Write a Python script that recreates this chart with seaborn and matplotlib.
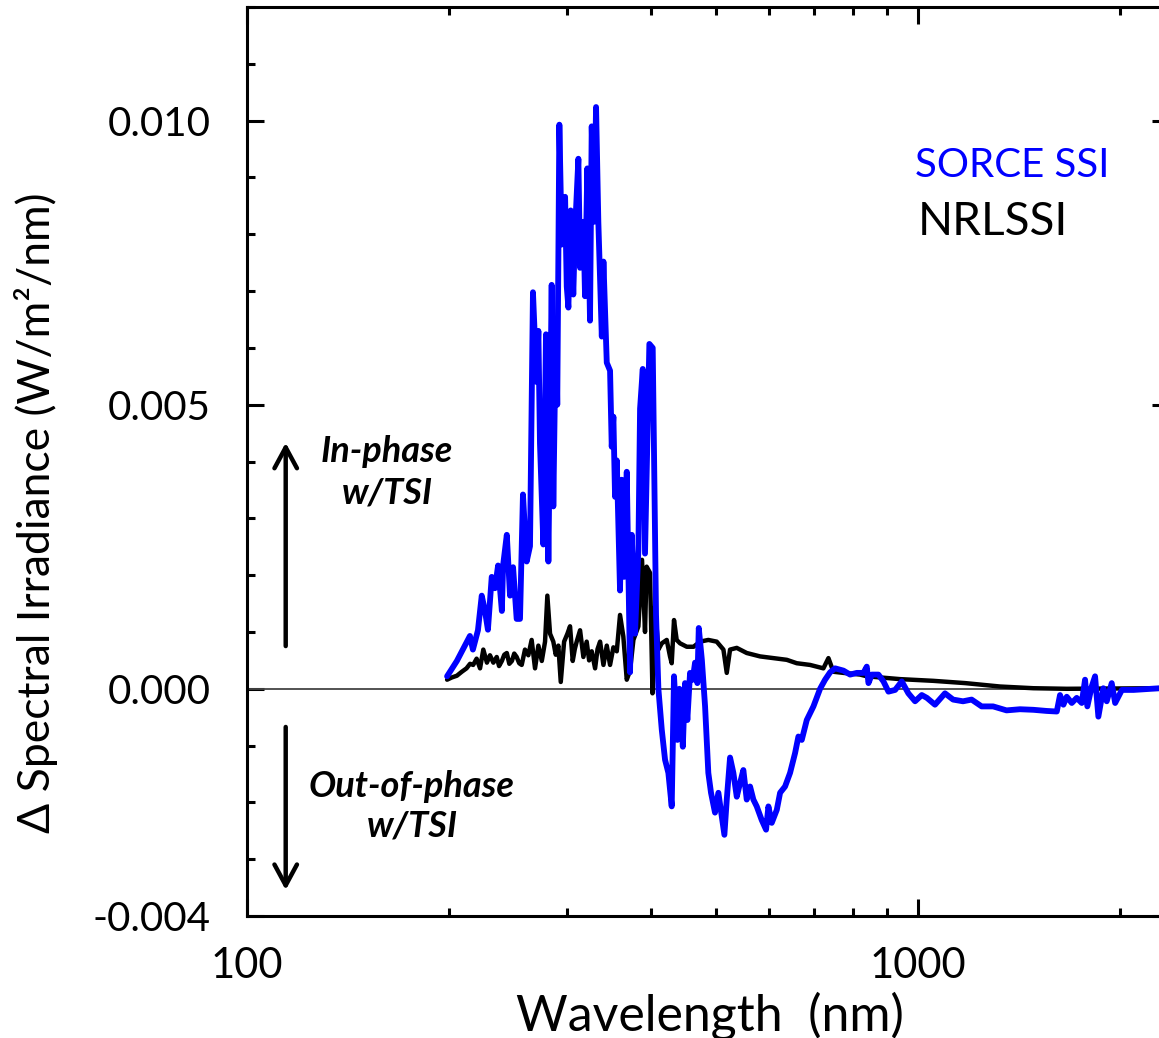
import numpy as np
import pandas as pd
import matplotlib
matplotlib.use('Agg')
import matplotlib.pyplot as plt
import matplotlib.ticker as mticker
import seaborn as sns

# SORCE SSI solar-cycle difference (W/m^2/nm)
sorce_wl = [198.7, 205.5, 211.2, 214.9, 217.1, 220.9, 223.8, 226.3, 228.6, 231.6,
            234.2, 236.7, 239.8, 240.8, 243.9, 246.6, 249.2, 252.3, 255.2, 257.8,
            261.1, 264.1, 266.8, 270.2, 271.8, 273.3, 276.5, 279.0, 281.3, 284.5,
            286.1, 288.7, 290.0, 292.1, 294.5, 297.9, 299.6, 301.3, 303.7, 306.4,
            308.2, 311.8, 313.6, 317.2, 319.0, 321.5, 324.5, 326.4, 329.0, 331.3,
            333.9, 337.9, 339.8, 343.7, 347.6, 349.6, 351.6, 353.6, 355.7, 359.7,
            361.8, 364.7, 368.1, 372.3, 374.5, 378.7, 383.1, 385.3, 388.9, 391.9,
            397.8, 402.4, 407.0, 410.3, 415.1, 419.8, 424.6, 429.5, 432.9, 438.0,
            441.0, 446.2, 449.6, 453.2, 457.4, 461.6, 465.3, 469.0, 471.3, 476.3,
            481.6, 484.4, 487.0, 491.5, 498.3, 504.1, 510.0, 514.6, 518.8, 524.7,
            530.7, 536.9, 543.0, 549.2, 555.6, 562.0, 568.4, 575.0, 584.9, 593.7,
            598.5, 605.4, 616.0, 623.0, 633.7, 644.7, 655.9, 663.4, 671.1, 682.7,
            698.5, 714.6, 727.0, 739.6, 752.4, 774.2, 792.2, 810.6, 829.3, 838.8,
            843.7, 853.4, 873.0, 888.2, 903.6, 924.5, 945.8, 967.5, 990.0, 1013,
            1031, 1060, 1097, 1128, 1167, 1202, 1244, 1294, 1355, 1419,
            1486, 1555, 1610, 1628, 1647, 1666, 1695, 1724, 1754, 1774,
            1788, 1815, 1836, 1857, 1889, 1911, 1944, 1967, 2013, 2096,
            2287, 2400]
sorce_val = [0.00022, 0.00049, 0.00076, 0.00093, 0.00069, 0.00103, 0.00164, 0.00137, 0.00104, 0.00197,
             0.00177, 0.00217, 0.00137, 0.00217, 0.00271, 0.00164, 0.00214, 0.00123, 0.00123, 0.00342,
             0.00224, 0.00251, 0.00698, 0.00540, 0.00630, 0.00432, 0.00254, 0.00624, 0.00224, 0.00711,
             0.00321, 0.00650, 0.00500, 0.00993, 0.00782, 0.00866, 0.00708, 0.00671, 0.00842, 0.00694,
             0.00805, 0.00933, 0.00741, 0.00822, 0.00691, 0.00916, 0.00648, 0.00990, 0.00822, 0.01024,
             0.00822, 0.00620, 0.00752, 0.00574, 0.00560, 0.00426, 0.00479, 0.00338, 0.00402, 0.00173,
             0.00368, 0.00197, 0.00382, 0.00029, 0.00271, 0.00097, 0.00245, 0.00493, 0.00563, 0.00238,
             0.00607, 0.00600, 0.00130, 0.00000, -0.00072, -0.00125, -0.00148, -0.00207, 0.00022, -0.00090,
             0.00000, -0.00102, 0.00010, -0.00055, 0.00028, 0.00016, 0.00046, 0.00010, 0.00107, 0.00051,
             -0.00031, -0.00090, -0.00148, -0.00183, -0.00218, -0.00183, -0.00225, -0.00257, -0.00195, -0.00121,
             -0.00148, -0.00190, -0.00166, -0.00143, -0.00195, -0.00172, -0.00195, -0.00207, -0.00231, -0.00248,
             -0.00207, -0.00236, -0.00213, -0.00183, -0.00172, -0.00148, -0.00113, -0.00084, -0.00090, -0.00055,
             -0.00031, 0.00000, 0.00016, 0.00029, 0.00036, 0.00032, 0.00025, 0.00028, 0.00028, 0.00039,
             0.00010, 0.00025, 0.00025, 0.00013, -0.00005, -0.00002, 0.00013, -0.00008, -0.00022, -0.00011,
             -0.00016, -0.00028, -0.00008, -0.00019, -0.00022, -0.00019, -0.00031, -0.00031, -0.00038, -0.00036,
             -0.00037, -0.00039, -0.00040, -0.00011, -0.00028, -0.00014, -0.00025, -0.00016, -0.00025, 0.00016,
             -0.00031, 0.00004, 0.00022, -0.00049, 0.00001, -0.00022, 0.00010, -0.00025, -0.00002, -0.00002,
             0.00001, 0.00001]

# NRLSSI model difference (W/m^2/nm)
nrl_wl = [198.7, 202.0, 205.5, 209.0, 212.4, 215.0, 217.3, 219.9, 222.5, 225.0,
          227.8, 230.2, 232.9, 235.6, 237.5, 239.8, 241.8, 243.9, 246.0, 248.2,
          250.2, 252.3, 254.5, 256.7, 259.6, 262.6, 265.6, 268.7, 271.8, 275.0,
          278.1, 280.3, 282.9, 286.1, 288.5, 291.1, 293.5, 296.9, 300.3, 303.0,
          305.8, 308.0, 310.0, 313.6, 317.2, 320.8, 323.5, 326.4, 330.2, 333.0,
          335.9, 339.8, 343.7, 347.6, 351.6, 355.7, 359.7, 363.8, 368.1, 372.3,
          376.6, 383.1, 387.9, 391.9, 394.1, 398.7, 402.1, 405.6, 410.3, 415.1,
          422.2, 427.0, 429.5, 432.9, 436.9, 442.0, 452.3, 462.9, 473.4, 487.0,
          501.2, 512.9, 518.8, 524.7, 536.9, 555.6, 581.6, 608.8, 637.4, 659.6,
          690.5, 722.8, 735.4, 748.1, 774.2, 819.9, 838.8, 898.5, 940.5, 1054,
          1176, 1325, 1486, 1666, 2287, 2400]
nrl_val = [0.00016, 0.00020, 0.00023, 0.00030, 0.00036, 0.00044, 0.00042, 0.00053, 0.00036, 0.00069,
           0.00046, 0.00059, 0.00046, 0.00056, 0.00040, 0.00049, 0.00060, 0.00063, 0.00044, 0.00049,
           0.00062, 0.00056, 0.00045, 0.00042, 0.00069, 0.00059, 0.00086, 0.00036, 0.00076, 0.00049,
           0.00083, 0.00164, 0.00097, 0.00083, 0.00060, 0.00076, 0.00012, 0.00083, 0.00097, 0.00110,
           0.00049, 0.00070, 0.00083, 0.00103, 0.00056, 0.00083, 0.00050, 0.00066, 0.00036, 0.00070,
           0.00083, 0.00042, 0.00076, 0.00042, 0.00073, 0.00066, 0.00130, 0.00092, 0.00016, 0.00032,
           0.00086, 0.00110, 0.00227, 0.00100, 0.00215, 0.00204, -0.00008, 0.00145, 0.00069, 0.00080,
           0.00086, 0.00057, 0.00045, 0.00121, 0.00086, 0.00080, 0.00074, 0.00074, 0.00083, 0.00086,
           0.00083, 0.00069, 0.00028, 0.00069, 0.00072, 0.00063, 0.00057, 0.00054, 0.00051, 0.00045,
           0.00042, 0.00036, 0.00054, 0.00030, 0.00028, 0.00025, 0.00022, 0.00019, 0.00017, 0.00014,
           0.00010, 0.00004, 0.00001, 0.00000, 0.00001, 0.00001]

ytick_vals = [-0.004, 0.0, 0.005, 0.010]
ytick_labels = ['-0.004', '0.000', '0.005', '0.010']
xtick_vals = [100, 1000]
xtick_labels = ['100', '1000']

sorce = pd.DataFrame({'wl': sorce_wl, 'val': sorce_val})
nrl = pd.DataFrame({'wl': nrl_wl, 'val': nrl_val})

sns.set_style('ticks')
plt.rcParams['font.family'] = ['Lato', 'DejaVu Sans']
plt.rcParams['text.color'] = 'black'
plt.rcParams['axes.labelcolor'] = 'black'
plt.rcParams['xtick.color'] = 'black'
plt.rcParams['ytick.color'] = 'black'

fig = plt.figure(figsize=(11.59, 10.38), dpi=100)
ax = fig.add_axes([0.2131, 0.1175, 0.7955, 0.8757])

ax.axhline(0, color='#444444', lw=1.3, zorder=1)
sns.lineplot(data=nrl, x='wl', y='val', ax=ax, color='black', linewidth=3.2,
             estimator=None, zorder=2)
sns.lineplot(data=sorce, x='wl', y='val', ax=ax, color='#0000ff', linewidth=4.2,
             estimator=None, zorder=3)

ax.set_xscale('log')
ax.set_xlim(100, 2366)
ax.set_ylim(-0.004, 0.012)

ax.set_yticks(ytick_vals)
ax.set_yticklabels(ytick_labels)
ax.yaxis.set_minor_locator(mticker.MultipleLocator(0.001))
ax.set_xticks(xtick_vals)
ax.set_xticklabels(xtick_labels)
ax.xaxis.set_minor_locator(mticker.LogLocator(base=10, subs=np.arange(2, 10)))
ax.xaxis.set_minor_formatter(mticker.NullFormatter())

ax.tick_params(which='both', direction='in', top=True, right=True, width=2.2, color='black')
ax.tick_params(which='major', length=12)
ax.tick_params(which='minor', length=6)
ax.tick_params(axis='y', which='major', labelsize=29, pad=26)
ax.tick_params(axis='x', which='major', labelsize=30, pad=22)
for sp in ax.spines.values():
    sp.set_linewidth(2.2)
    sp.set_color('black')

ax.set_xlabel('Wavelength  (nm)', fontsize=36)
ax.xaxis.set_label_coords(0.502, -0.083)
ax.set_ylabel('Δ Spectral Irradiance (W/m²/nm)', fontsize=32)
ax.yaxis.set_label_coords(-0.205, 0.444)

# series names
ax.text(0.7245, 0.826, 'SORCE SSI', color='#0000ff', fontsize=29,
        transform=ax.transAxes, ha='left', va='center')
ax.text(0.7278, 0.7635, 'NRLSSI', color='black', fontsize=33,
        transform=ax.transAxes, ha='left', va='center')

# phase annotations
ax.text(0.1518, 0.488, 'In-phase\nw/TSI', fontsize=26, fontweight='bold',
        fontstyle='italic', transform=ax.transAxes, ha='center', va='center',
        ma='center', linespacing=1.3)
ax.text(0.179, 0.121, 'Out-of-phase\nw/TSI', fontsize=26, fontweight='bold',
        fontstyle='italic', transform=ax.transAxes, ha='center', va='center',
        ma='center', linespacing=1.25)
arrow = dict(arrowstyle='->,head_length=0.5,head_width=0.27', lw=3.2, color='black',
             shrinkA=0, shrinkB=0, mutation_scale=30)
ax.annotate('', xy=(0.042, 0.5207), xytext=(0.042, 0.297),
            xycoords='axes fraction', textcoords='axes fraction', arrowprops=arrow)
ax.annotate('', xy=(0.042, 0.0286), xytext=(0.042, 0.208),
            xycoords='axes fraction', textcoords='axes fraction', arrowprops=arrow)

fig.savefig('out.png', dpi=100)
